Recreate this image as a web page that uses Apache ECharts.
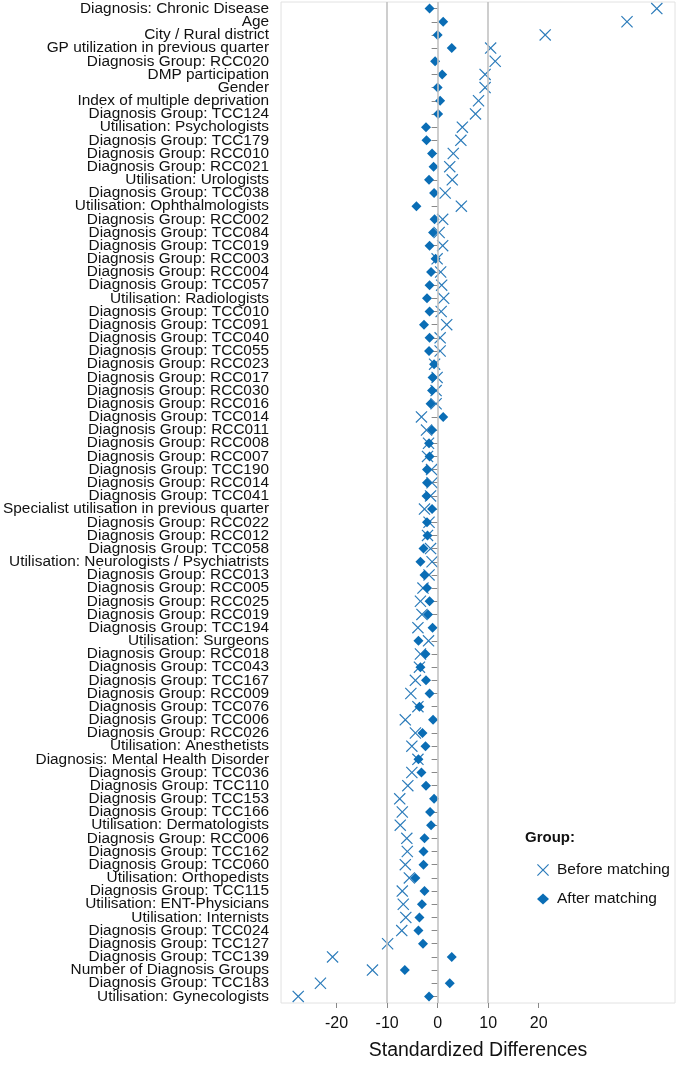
<!DOCTYPE html>
<html>
<head>
<meta charset="utf-8">
<script src="https://cdn.jsdelivr.net/npm/echarts@6/dist/echarts.min.js"></script>
<style>html,body{margin:0;padding:0;background:#fff;}#c{width:677px;height:1066px;}</style>
</head>
<body>
<div id="c"></div>
<script>
const categories = [
"Diagnosis: Chronic Disease","Age","City / Rural district","GP utilization in previous quarter",
"Diagnosis Group: RCC020","DMP participation","Gender","Index of multiple deprivation",
"Diagnosis Group: TCC124","Utilisation: Psychologists","Diagnosis Group: TCC179","Diagnosis Group: RCC010",
"Diagnosis Group: RCC021","Utilisation: Urologists","Diagnosis Group: TCC038","Utilisation: Ophthalmologists",
"Diagnosis Group: RCC002","Diagnosis Group: TCC084","Diagnosis Group: TCC019","Diagnosis Group: RCC003",
"Diagnosis Group: RCC004","Diagnosis Group: TCC057","Utilisation: Radiologists","Diagnosis Group: TCC010",
"Diagnosis Group: TCC091","Diagnosis Group: TCC040","Diagnosis Group: TCC055","Diagnosis Group: RCC023",
"Diagnosis Group: RCC017","Diagnosis Group: RCC030","Diagnosis Group: RCC016","Diagnosis Group: TCC014",
"Diagnosis Group: RCC011","Diagnosis Group: RCC008","Diagnosis Group: RCC007","Diagnosis Group: TCC190",
"Diagnosis Group: RCC014","Diagnosis Group: TCC041","Specialist utilisation in previous quarter","Diagnosis Group: RCC022",
"Diagnosis Group: RCC012","Diagnosis Group: TCC058","Utilisation: Neurologists / Psychiatrists","Diagnosis Group: RCC013",
"Diagnosis Group: RCC005","Diagnosis Group: RCC025","Diagnosis Group: RCC019","Diagnosis Group: TCC194",
"Utilisation: Surgeons","Diagnosis Group: RCC018","Diagnosis Group: TCC043","Diagnosis Group: TCC167",
"Diagnosis Group: RCC009","Diagnosis Group: TCC076","Diagnosis Group: TCC006","Diagnosis Group: RCC026",
"Utilisation: Anesthetists","Diagnosis: Mental Health Disorder","Diagnosis Group: TCC036","Diagnosis Group: TCC110",
"Diagnosis Group: TCC153","Diagnosis Group: TCC166","Utilisation: Dermatologists","Diagnosis Group: RCC006",
"Diagnosis Group: TCC162","Diagnosis Group: TCC060","Utilisation: Orthopedists","Diagnosis Group: TCC115",
"Utilisation: ENT-Physicians","Utilisation: Internists","Diagnosis Group: TCC024","Diagnosis Group: TCC127",
"Diagnosis Group: TCC139","Number of Diagnosis Groups","Diagnosis Group: TCC183","Utilisation: Gynecologists"
];
const beforeMatching = [
43.4,37.5,21.3,10.5,11.4,9.4,9.4,8.1,
7.5,4.9,4.6,3.1,2.4,2.9,1.5,4.7,
1.0,0.3,1.0,-0.1,0.6,0.8,1.2,0.7,
1.8,0.5,0.5,-0.6,-0.1,-0.3,-0.3,-3.2,
-2.2,-1.8,-2.0,-1.2,-1.1,-1.4,-2.6,-1.7,
-2.0,-1.4,-1.1,-1.7,-2.9,-3.4,-3.1,-3.9,
-1.8,-3.4,-3.6,-4.4,-5.3,-3.9,-6.4,-4.4,
-5.1,-3.9,-5.1,-5.9,-7.5,-7.0,-7.4,-6.1,
-6.0,-6.4,-5.6,-7.0,-6.8,-6.3,-7.1,-9.9,
-20.8,-12.9,-23.2,-27.6
];
const afterMatching = [
-1.6,1.1,0.0,2.8,-0.5,0.9,0.0,0.5,
0.1,-2.3,-2.2,-1.1,-0.8,-1.7,-0.7,-4.2,
-0.6,-0.9,-1.6,-0.4,-1.3,-1.6,-2.1,-1.6,
-2.7,-1.6,-1.7,-0.7,-1.0,-1.1,-1.4,1.1,
-1.1,-1.7,-1.6,-2.1,-2.1,-2.2,-1.1,-2.1,
-2.0,-2.8,-3.4,-2.6,-2.1,-1.6,-1.9,-1.0,
-3.8,-2.4,-3.4,-2.3,-1.6,-3.6,-0.9,-3.0,
-2.4,-3.8,-3.2,-2.3,-0.7,-1.5,-1.3,-2.6,
-2.8,-2.8,-4.4,-2.6,-3.1,-3.6,-3.8,-2.9,
2.8,-6.5,2.4,-1.7
];
const xTicks = [-20,-10,0,10,20];
const gridValues = [-10,0,10];

const xPath = 'path://M0,0.7 L0.7,0 L5,4.3 L9.3,0 L10,0.7 L5.7,5 L10,9.3 L9.3,10 L5,5.7 L0.7,10 L0,9.3 L4.3,5 Z';
const FONT = '"Liberation Sans", Arial, Helvetica, sans-serif';
const beforeColor = '#2b7bba';
const afterColor = '#0a6db5';

const chart = echarts.init(document.getElementById('c'), null, {renderer:'canvas'});
chart.setOption({
  animation: false,
  backgroundColor: '#fff',
  grid: {left: 281, right: 2, top: 2, bottom: 46, show: true, borderColor: '#e2e2e2', borderWidth: 1},
  xAxis: {
    type: 'value', min: -31, max: 47,
    name: 'Standardized Differences', nameLocation: 'middle', nameGap: 38,
    nameTextStyle: {fontFamily: FONT, fontSize: 19.5, color: '#111'},
    axisLine: {show: false},
    axisTick: {show: true, length: 5, lineStyle: {color: '#888'}, customValues: xTicks},
    axisLabel: {fontFamily: FONT, fontSize: 16, color: '#111', margin: 13, customValues: xTicks},
    splitLine: {show: false}
  },
  yAxis: {
    type: 'category', data: categories, inverse: true, boundaryGap: true,
    axisLine: {show: false},
    axisTick: {show: true, alignWithLabel: true, length: 6, lineStyle: {color: '#888'}},
    axisLabel: {fontFamily: FONT, fontSize: 15.4, color: '#111', margin: 12, interval: 0},
    splitLine: {show: false}
  },
  legend: [
    {data: [{name: 'Before matching', icon: xPath}], orient: 'vertical', left: 532, top: 857,
     itemWidth: 12, itemHeight: 12, itemGap: 0,
     textStyle: {fontFamily: FONT, fontSize: 15.5, color: '#111', lineHeight: 12, padding: [0,0,0,3]}},
    {data: [{name: 'After matching', icon: 'diamond'}], orient: 'vertical', left: 532, top: 886,
     itemWidth: 12, itemHeight: 11, itemGap: 0,
     textStyle: {fontFamily: FONT, fontSize: 15.5, color: '#111', lineHeight: 11, padding: [0,0,0,3]}}
  ],
  graphic: [{type: 'text', left: 525, top: 830,
    style: {text: 'Group:', fontFamily: FONT, fontSize: 15, fontWeight: 'bold', fill: '#111'}}],
  series: [
    {type: 'line', data: [], silent: true, z: 1,
     markLine: {silent: true, symbol: 'none', label: {show: false},
       lineStyle: {color: '#c2c2c2', width: 1.6, type: 'solid'},
       data: gridValues.map(v => ({xAxis: v}))}},
    {name: 'Before matching', type: 'scatter', z: 3, symbol: xPath, symbolSize: 12,
     itemStyle: {color: beforeColor, opacity: 1},
     data: beforeMatching.map((v, i) => [v, categories[i]])},
    {name: 'After matching', type: 'scatter', z: 4, symbol: 'diamond', symbolSize: [10, 10],
     itemStyle: {color: afterColor, opacity: 1},
     data: afterMatching.map((v, i) => [v, categories[i]])}
  ]
});
</script>
</body>
</html>
